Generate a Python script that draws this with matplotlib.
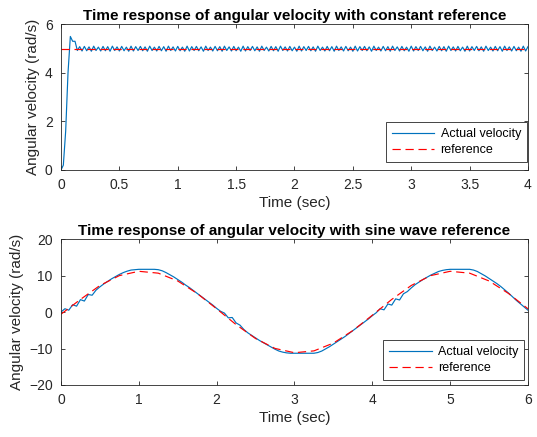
import numpy as np
import matplotlib
matplotlib.use('Agg')
import matplotlib.pyplot as plt

plt.rcParams['font.family'] = ['Liberation Sans', 'DejaVu Sans']

# constant reference case (top)
t_const = np.round(np.arange(0, 4.0001, 0.02), 2)
ref_const = 5.0
vel_const = [0.0, 0.2, 1.6, 4.0, 5.5, 5.3, 5.3] + [
    4.92, 5.08, 4.90, 5.09, 4.91, 5.07, 4.89, 5.10, 4.92, 5.06, 4.90,
    5.09, 4.91, 5.08, 4.89, 5.10, 4.92, 5.07, 4.90, 5.09, 4.91, 5.06,
    4.89, 5.10, 4.90, 5.08, 4.92, 5.09, 4.91, 5.07, 4.89, 5.10, 4.92,
    5.06, 4.90, 5.09, 4.91, 5.08, 4.89, 5.10, 4.92, 5.07, 4.90, 5.09,
    4.91, 5.06, 4.89, 5.10, 4.90, 5.08, 4.92, 5.09, 4.91, 5.07, 4.89,
    5.10, 4.92, 5.06, 4.90, 5.09, 4.91, 5.08, 4.89, 5.10, 4.92, 5.07,
    4.90, 5.09, 4.91, 5.06, 4.89, 5.10, 4.90, 5.08, 4.92, 5.09, 4.91,
    5.07, 4.89, 5.10, 4.92, 5.06, 4.90, 5.09, 4.91, 5.08, 4.89, 5.10,
    4.92, 5.07, 4.90, 5.09, 4.91, 5.06, 4.89, 5.10, 4.90, 5.08, 4.92,
    5.09, 4.91, 5.07, 4.89, 5.10, 4.92, 5.06, 4.90, 5.09, 4.91, 5.08,
    4.89, 5.10, 4.92, 5.07, 4.90, 5.09, 4.91, 5.06, 4.89, 5.10, 4.90,
    5.08, 4.92, 5.09, 4.91, 5.07, 4.89, 5.10, 4.92, 5.06, 4.90, 5.09,
    4.91, 5.08, 4.89, 5.10, 4.92, 5.07, 4.90, 5.09, 4.91, 5.06, 4.89,
    5.10, 4.90, 5.08, 4.92, 5.09, 4.91, 5.07, 4.89, 5.10, 4.92, 5.06,
    4.90, 5.09, 4.91, 5.08, 4.89, 5.10, 4.92, 5.07, 4.90, 5.09, 4.91,
    5.06, 4.89, 5.10, 4.90, 5.08, 4.92, 5.09, 4.91, 5.07, 4.89, 5.10,
    4.92, 5.06, 4.90, 5.09, 4.91, 5.08, 4.89, 5.10, 4.92, 5.07, 4.90,
    5.09, 4.91, 5.06, 4.89, 5.10, 4.90, 5.08]

# sine reference case (bottom)
t_ref = np.arange(0, 6.001, 0.25)
ref_sine = [-0.6, 3.46, 7.27, 9.98, 11.16, 10.65, 8.51, 5.08, 0.88,
            -3.46, -7.27, -9.98, -11.16, -10.65, -8.51, -5.08, -0.88,
            3.46, 7.27, 9.98, 11.16, 10.65, 8.51, 5.08, 0.88]

t_sine = np.round(np.arange(0, 6.001, 0.05), 2)
vel_sine = [
    0.0, 0.9, 0.5, 2.0, 1.6, 3.4, 3.0, 4.8, 4.6, 6.0,
    6.9, 7.7, 8.4, 9.1, 9.7, 10.3, 10.8, 11.2, 11.5, 11.6,
    11.7, 11.7, 11.7, 11.7, 11.7, 11.6, 11.3, 10.8, 10.2, 9.6,
    8.9, 8.2, 7.4, 6.7, 5.9, 5.1, 4.3, 3.5, 2.7, 1.9,
    1.0, 0.2, -0.3, -1.6, -1.5, -3.0, -3.6, -4.8, -5.7, -6.4,
    -7.1, -7.8, -8.4, -9.0, -9.6, -10.2, -10.7, -11.0, -11.2, -11.3,
    -11.3, -11.3, -11.3, -11.3, -11.3, -11.3, -11.1, -10.7, -10.1, -9.5,
    -8.8, -8.1, -7.4, -6.7, -5.9, -5.1, -4.3, -3.5, -2.7, -1.9,
    -1.0, -0.2, 0.9, 0.6, 2.2, 1.9, 3.6, 3.3, 5.0, 5.6,
    6.6, 7.5, 8.2, 8.9, 9.5, 10.1, 10.6, 11.1, 11.4, 11.6,
    11.7, 11.7, 11.7, 11.7, 11.7, 11.7, 11.5, 11.1, 10.5, 9.9,
    9.2, 8.5, 7.8, 7.0, 6.1, 5.2, 4.2, 3.2, 2.3, 1.4,
    0.5]

blue = '#0072BD'
grey = '#262626'

fig = plt.figure(figsize=(5.37, 4.37), dpi=100)
ax1 = fig.add_axes([0.1136, 0.611, 0.8696, 0.3334])
ax2 = fig.add_axes([0.1136, 0.119, 0.8696, 0.334])

ax1.plot(t_const, vel_const, color=blue, lw=0.85, label='Actual velocity')
ax1.plot([0, 4], [ref_const, ref_const], color='red', lw=0.85,
         dashes=(7, 4), label='reference')
ax1.set_xlim(0, 4)
ax1.set_ylim(0, 6)
ax1.set_xticks(np.arange(0, 4.01, 0.5))
ax1.set_xticklabels(['0', '0.5', '1', '1.5', '2', '2.5', '3', '3.5', '4'])
ax1.set_yticks([0, 2, 4, 6])
ax1.set_title('Time response of angular velocity with constant reference',
              fontsize=11, fontweight='bold', pad=3)

ax2.plot(t_sine, vel_sine, color=blue, lw=0.85, label='Actual velocity')
ax2.plot(t_ref, ref_sine, color='red', lw=0.85, dashes=(7, 4),
         label='reference')
ax2.set_xlim(0, 6)
ax2.set_ylim(-20, 20)
ax2.set_xticks(range(7))
ax2.set_yticks([-20, -10, 0, 10, 20])
ax2.set_title('Time response of angular velocity with sine wave reference',
              fontsize=11, fontweight='bold', pad=3)

legend_anchor = {ax1: (0.997, 0.055), ax2: (0.991, 0.034)}
for ax in (ax1, ax2):
    ax.set_xlabel('Time (sec)', fontsize=11, color=grey, labelpad=3)
    ax.set_ylabel('Angular velocity (rad/s)', fontsize=11, color=grey, labelpad=3.5)
    ax.tick_params(direction='in', length=3, width=0.6, top=True, right=True,
                   labelsize=10, colors=grey, pad=6)
    for s in ax.spines.values():
        s.set_linewidth(0.6)
        s.set_color(grey)
    leg = ax.legend(loc='lower right', bbox_to_anchor=legend_anchor[ax],
                    fontsize=9, handlelength=3.4, borderaxespad=0,
                    fancybox=False, framealpha=1, edgecolor=grey,
                    borderpad=0.45, labelspacing=0.35, handletextpad=0.5)
    leg.get_frame().set_linewidth(0.6)

fig.savefig('out.png', dpi=100)
